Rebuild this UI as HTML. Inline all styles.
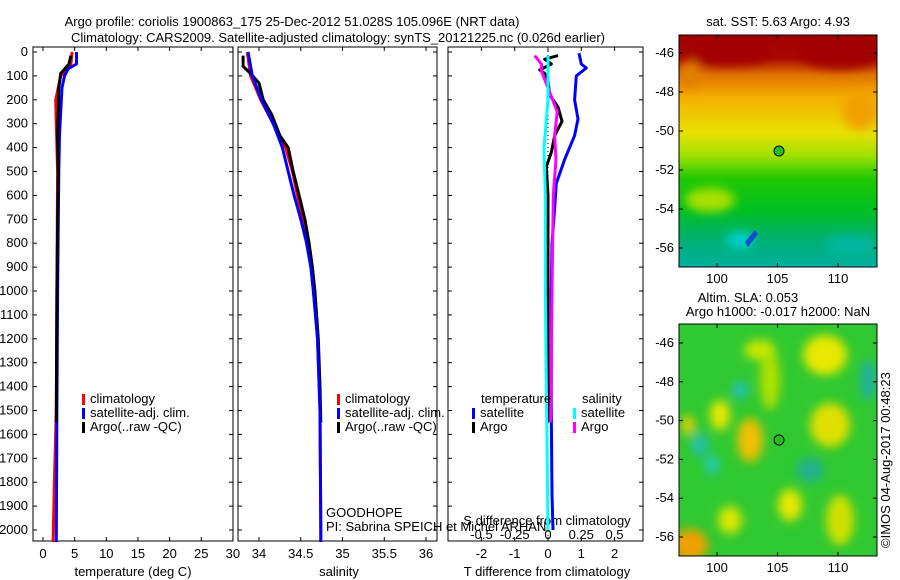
<!DOCTYPE html>
<html><head><meta charset="utf-8"><style>
body{margin:0;background:#fff;}
svg{display:block;font-family:"Liberation Sans",sans-serif;}
text{font-size:13px;fill:#000;}
</style></head><body>
<svg id="c" width="900" height="580">
<defs>
<linearGradient id="sst" x1="0" y1="0" x2="0" y2="1">
<stop offset="0" stop-color="#a00000"/><stop offset="0.1" stop-color="#a80800"/><stop offset="0.17" stop-color="#e07000"/><stop offset="0.27" stop-color="#f5b000"/><stop offset="0.42" stop-color="#e8e000"/><stop offset="0.52" stop-color="#a0e000"/><stop offset="0.62" stop-color="#20c800"/><stop offset="0.75" stop-color="#00c020"/><stop offset="0.88" stop-color="#00b070"/><stop offset="1" stop-color="#00b0a0"/>
</linearGradient>
<filter id="bl"><feGaussianBlur stdDeviation="5"/></filter>
<clipPath id="m1"><rect x="679" y="35" width="198" height="232"/></clipPath>
<clipPath id="m2"><rect x="679" y="324" width="198" height="232"/></clipPath>
</defs>
<text x="292" y="26" text-anchor="middle">Argo profile: coriolis 1900863_175 25-Dec-2012 51.028S 105.096E (NRT data)</text>
<text x="338" y="42" text-anchor="middle">Climatology: CARS2009. Satellite-adjusted climatology: synTS_20121225.nc (0.026d earlier)</text>
<g id="plots"></g>
<g clip-path="url(#m1)">
<rect x="679" y="35" width="198" height="232" fill="url(#sst)"/>
<g filter="url(#bl)">
<ellipse cx="840" cy="55" rx="40" ry="14" fill="#a00000"/>
<ellipse cx="730" cy="55" rx="40" ry="10" fill="#a00000"/>
<ellipse cx="690" cy="75" rx="10" ry="14" fill="#e08000"/>
<ellipse cx="860" cy="110" rx="18" ry="20" fill="#f0a000"/>
<ellipse cx="710" cy="200" rx="25" ry="12" fill="#a8e000"/>
<ellipse cx="740" cy="240" rx="14" ry="8" fill="#00d0d0"/>
<ellipse cx="850" cy="245" rx="25" ry="10" fill="#00b8a0"/>
</g>
<path d="M745 242 L755 230 L758 234 L748 247Z" fill="#1050d0"/>
<circle cx="779" cy="151" r="5" fill="#20c020" stroke="#000"/>
</g>
<rect x="679" y="35" width="198" height="232" fill="none" stroke="#000"/>
<text x="778" y="26" text-anchor="middle">sat. SST: 5.63 Argo: 4.93</text>
<g clip-path="url(#m2)">
<rect x="679" y="324" width="198" height="232" fill="#30c830"/>
<g filter="url(#bl)">
<ellipse cx="750" cy="440" rx="13" ry="22" fill="#f0c000"/>
<ellipse cx="690" cy="545" rx="18" ry="16" fill="#f0a000"/>
<ellipse cx="720" cy="415" rx="10" ry="15" fill="#e8e800"/>
<ellipse cx="688" cy="425" rx="6" ry="10" fill="#f0d000"/>
<ellipse cx="825" cy="355" rx="22" ry="20" fill="#e8e800"/>
<ellipse cx="830" cy="425" rx="20" ry="22" fill="#e0e000"/>
<ellipse cx="790" cy="505" rx="12" ry="16" fill="#e8e800"/>
<ellipse cx="760" cy="350" rx="16" ry="10" fill="#c8e800"/>
<ellipse cx="770" cy="380" rx="10" ry="30" fill="#b0e000"/>
<ellipse cx="840" cy="520" rx="14" ry="25" fill="#d0e000"/>
<ellipse cx="730" cy="520" rx="12" ry="14" fill="#d8e800"/>
<ellipse cx="740" cy="390" rx="8" ry="8" fill="#20c0c0"/>
<ellipse cx="700" cy="445" rx="8" ry="12" fill="#20c0b0"/>
<ellipse cx="712" cy="465" rx="6" ry="10" fill="#20c8c8"/>
<ellipse cx="868" cy="380" rx="8" ry="20" fill="#20b0a0"/>
<ellipse cx="810" cy="470" rx="14" ry="12" fill="#20b090"/>
</g>
<circle cx="779" cy="440" r="5" fill="#20c020" stroke="#000"/>
</g>
<rect x="679" y="324" width="198" height="232" fill="none" stroke="#000"/>
<text x="748" y="302" text-anchor="middle">Altim. SLA: 0.053</text>
<text x="778" y="316" text-anchor="middle">Argo h1000: -0.017 h2000: NaN</text>
<text transform="translate(890,548) rotate(-90)">©IMOS 04-Aug-2017 00:48:23</text>
<g id="maxes"></g>
</svg>
<script>
const tDepC=[0,50,80,100,150,200,300,500,1000,1500,1800,2050];
const tClim=[4.6,4.4,3.5,2.8,2.4,2.0,2.1,2.3,2.2,2.1,1.8,1.6];
const tDepS=[0,50,70,100,150,250,350,500,1000,1500,2050];
const tSat=[5.3,5.3,4.0,3.4,3.0,2.8,2.6,2.5,2.3,2.2,2.1];
const tDepA=[15,50,90,150,250,350,500,1000,1550];
const tArgo=[4.4,4.1,2.8,2.5,2.4,2.3,2.4,2.2,2.1];
const sDepC=[0,100,200,300,400,500,600,700,800,900,1000,1200,1500,2000,2050];
const sClim=[33.86,33.9,34.02,34.17,34.32,34.4,34.46,34.53,34.59,34.63,34.66,34.7,34.73,34.74,34.74];
const sSat=[33.87,33.92,34.03,34.17,34.28,34.35,34.42,34.5,34.57,34.62,34.65,34.7,34.73,34.74,34.74];
const sDepA=[15,60,90,130,200,260,350,400,450,500,600,700,800,900,1000,1100,1200,1400,1550];
const sArgo=[33.81,33.81,33.9,34.0,34.05,34.15,34.25,34.35,34.38,34.41,34.48,34.55,34.6,34.64,34.67,34.69,34.71,34.73,34.74];
const dDepTS=[5,50,67,100,200,280,350,450,550,650,800,1000,1500,1850,2000];
const dTSat=[0.93,1.0,1.15,0.85,0.8,0.9,0.8,0.5,0.25,0.2,0.12,0.1,0.1,0.12,0.15];
const dDepTA=[15,30,50,75,90,120,180,230,290,350,420,480,600,1000,1550];
const dTArgo=[0.3,-0.1,0.1,-0.25,-0.1,0.0,0.05,0.3,0.42,0.2,0.1,-0.05,0.0,0.0,0.0];
const dDepSA=[15,50,80,150,250,350,450,600,1000,1550];
const dSArgo=[-0.1,-0.05,-0.05,0.0,0.07,0.05,0.06,0.04,0.03,0.02];
const dDepSS=[15,200,400,600,1000,2000];
const dSSat=[0.0,0.0,-0.03,-0.02,-0.02,0.0];
const depthTicks=[0,100,200,300,400,500,600,700,800,900,1000,1100,1200,1300,1400,1500,1600,1700,1800,1900,2000];
const tTicks=[0,5,10,15,20,25,30];
const sTicks=[34,34.5,35,35.5,36];
const dtTicks=[-2,-1,0,1,2];
const dsTicks=[-0.5,-0.25,0,0.25,0.5];
const lonTicks=[100,105,110];
const latTicks=[-46,-48,-50,-52,-54,-56];

const NS='http://www.w3.org/2000/svg';
const root=document.getElementById('plots');
function el(tag,attrs,parent){const e=document.createElementNS(NS,tag);for(const k in attrs)e.setAttribute(k,attrs[k]);(parent||root).appendChild(e);return e;}
const yD=d=>52+d*0.239;
const P1={x0:33,x1:233}, P2={x0:238,x1:437}, P3={x0:448,x1:643};
const yTop=47,yBot=541;
const xT=v=>43+v*6.33, xS=v=>259+(v-34)*83.5, xDT=v=>548+v*33.3, xDS=v=>548+v*133;
function frame(p,name){
  const r=el('rect',{x:p.x0,y:yTop,width:p.x1-p.x0,height:yBot-yTop,fill:'none',stroke:'#000'});
  
  
  depthTicks.forEach(d=>{el('line',{x1:p.x0,x2:p.x0+4,y1:yD(d),y2:yD(d),stroke:'#000'});el('line',{x1:p.x1-4,x2:p.x1,y1:yD(d),y2:yD(d),stroke:'#000'});});
}
function xticks(p,ticks,f,y){ticks.forEach(v=>{const x=f(v);el('line',{x1:x,x2:x,y1:yBot,y2:yBot-4,stroke:'#000'});el('line',{x1:x,x2:x,y1:yTop,y2:yTop+4,stroke:'#000'});const tx=el('text',{x:x,y:y,'text-anchor':'middle'});tx.textContent=String(v);});}
function line(xs,ds,f,col,name,w){
  let d='';xs.forEach((v,i)=>{d+=(i?'L':'M')+f(v).toFixed(1)+' '+yD(ds[i]).toFixed(1);});
  const p=el('path',{d:d,fill:'none',stroke:col,'stroke-width':w||3,'stroke-linejoin':'round'});
  
  
}
frame(P1,'temperature-panel');frame(P2,'salinity-panel');frame(P3,'difference-panel');
depthTicks.forEach(d=>{const tx=el('text',{x:28,y:yD(d)+4,'text-anchor':'end'});tx.textContent=d;});
xticks(P1,tTicks,xT,558);xticks(P2,sTicks,xS,558);xticks(P3,dtTicks,xDT,558);
dsTicks.forEach(v=>{const tx=el('text',{x:xDS(v),y:539,'text-anchor':'middle'});tx.textContent=String(v);});
[['temperature (deg C)',133],['salinity',339],['T difference from climatology',547]].forEach(([s,x])=>{const tx=el('text',{x:x,y:576,'text-anchor':'middle'});tx.textContent=s;});
const st=el('text',{x:547,y:525,'text-anchor':'middle'});st.textContent='S difference from climatology';


line(tClim,tDepC,xT,'#f00','temp-climatology');
line(tSat,tDepS,xT,'#00f','temp-satellite-clim');
line(tArgo,tDepA,xT,'#000','temp-argo');
line(sClim,sDepC,xS,'#f00','sal-climatology');
line(sArgo,sDepA,xS,'#000','sal-argo');
line(sSat,sDepC,xS,'#00f','sal-satellite-clim');
el('line',{x1:548,x2:548,y1:yTop,y2:yBot,stroke:'#000','stroke-dasharray':'1 3'});
line(dTSat,dDepTS,xDT,'#00f','tdiff-satellite');
line(dTArgo,dDepTA,xDT,'#000','tdiff-argo');
line(dSArgo,dDepSA,xDS,'#f0f','sdiff-argo');
line(dSSat,dDepSS,xDS,'#0ff','sdiff-satellite');
function leg(x,y,col,s){el('rect',{x:x,y:y-9,width:3,height:11,fill:col});const tx=el('text',{x:x+8,y:y});tx.textContent=s;}
[82,337].forEach(x=>{leg(x,403,'#f00','climatology');leg(x,417,'#00f','satellite-adj. clim.');leg(x,431,'#000','Argo(..raw -QC)');});
let tt=el('text',{x:481,y:403});tt.textContent='temperature';
tt=el('text',{x:582,y:403});tt.textContent='salinity';
leg(472,417,'#00f','satellite');leg(472,431,'#000','Argo');leg(573,417,'#0ff','satellite');leg(573,431,'#f0f','Argo');
tt=el('text',{x:326,y:517});tt.textContent='GOODHOPE';
tt=el('text',{x:326,y:531});tt.textContent='PI: Sabrina SPEICH et Michel ARHAN';
const mx=document.getElementById('maxes');
const lonX=v=>717+(v-100)*12.1;
[[35,267,53,248],[324,556,343,537]].forEach(([t0,b0,l46,l56])=>{
  lonTicks.forEach(v=>{const x=lonX(v);el('line',{x1:x,x2:x,y1:b0,y2:b0-4,stroke:'#000'},mx);el('line',{x1:x,x2:x,y1:t0,y2:t0+4,stroke:'#000'},mx);const tx=el('text',{x:x,y:b0+16,'text-anchor':'middle'},mx);tx.textContent=v;});
  latTicks.forEach(v=>{const y=l46+(v+46)/-10*(l56-l46);el('line',{x1:679,x2:683,y1:y,y2:y,stroke:'#000'},mx);el('line',{x1:873,x2:877,y1:y,y2:y,stroke:'#000'},mx);const tx=el('text',{x:674,y:y+4,'text-anchor':'end'},mx);tx.textContent=v;});
});
</script>
</body></html>
